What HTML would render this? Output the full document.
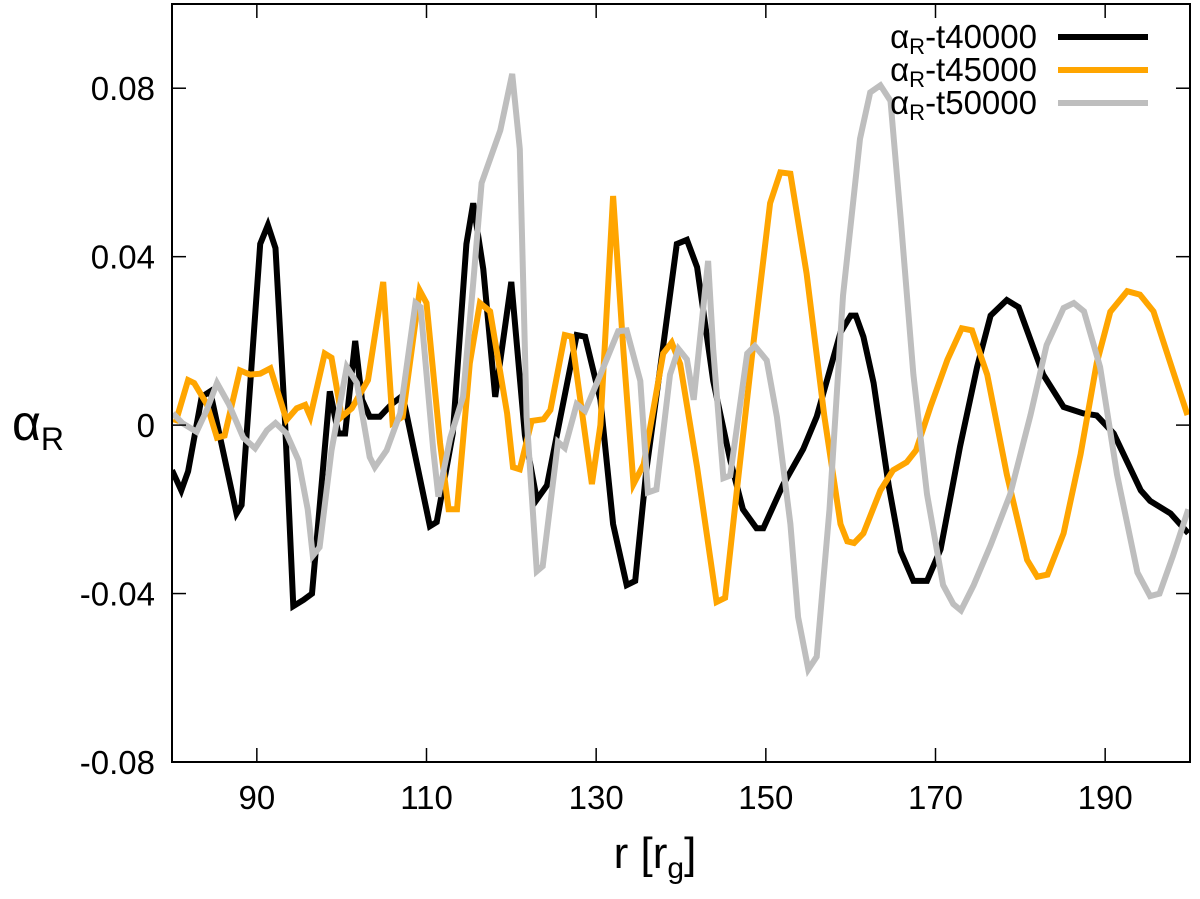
<!DOCTYPE html>
<html><head><meta charset="utf-8"><style>
body{margin:0;background:#fff;}
svg text{font-family:"Liberation Sans",sans-serif;}
</style></head><body>
<svg id="chart" width="1200" height="894" viewBox="0 0 1200 894" xmlns="http://www.w3.org/2000/svg">
<g id="grid"></g>
<g id="series"></g>
<rect x="172" y="4" width="1018" height="758" fill="none" stroke="#000" stroke-width="2"/>
<g id="axes"></g>
<text x="38" y="440" font-size="50" text-anchor="middle">α<tspan font-size="32" dy="10">R</tspan></text>
<text x="655" y="868" font-size="44" text-anchor="middle">r [r<tspan font-size="30" dy="10">g</tspan><tspan dy="-10">]</tspan></text>
<g id="legend"></g>
</svg>
<script>
const xTicks=[90,110,130,150,170,190];
const yTicks=[-0.08,-0.04,0,0.04,0.08];
const yTickLabels=["-0.08","-0.04","0","0.04","0.08"];
const seriesNames=["αR-t40000","αR-t45000","αR-t50000"];
const r40=[80,81.1,81.9,83.5,84.5,87.6,88.2,90.4,91.3,92.2,93.3,94.3,95.5,96.5,98.6,99.6,100.4,101.6,102.4,103.3,104.5,105.9,107.2,110.4,111.2,113.1,114.7,115.5,116.7,118.1,120,121.6,123,124.2,125.8,127.7,128.7,130.5,132,133.6,134.6,135.9,137.9,139.5,140.7,141.9,143.8,145.8,147.3,148.9,149.7,152,154.4,156,158.8,160,160.6,161.5,162.7,164.5,165.9,167.4,169,170.6,172.9,174.9,176.5,178.4,179.8,182.7,185.1,187.4,189,191,194.2,195.3,197.7,199.8];
const v40=[-0.0107,-0.0155,-0.011,0.0067,0.008,-0.021,-0.019,0.043,0.0475,0.042,0.002,-0.043,-0.0415,-0.04,0.008,-0.002,-0.002,0.020,0.006,0.002,0.002,0.005,0.007,-0.024,-0.023,-0.002,0.043,0.0527,0.037,0.0067,0.034,-0.0024,-0.0177,-0.0143,0.002,0.0214,0.021,0.006,-0.0235,-0.038,-0.037,-0.011,0.0188,0.043,0.044,0.0375,0.0105,-0.0083,-0.020,-0.0245,-0.0245,-0.0143,-0.0057,0.002,0.022,0.026,0.026,0.021,0.010,-0.0145,-0.030,-0.037,-0.037,-0.0295,-0.005,0.0138,0.026,0.0297,0.028,0.012,0.0043,0.0028,0.0023,-0.002,-0.0155,-0.018,-0.021,-0.0257];
const r45=[80.4,81.9,82.6,84.1,85.3,86.2,88,89.2,90.4,91.6,93.5,94.7,95.7,96.3,98,98.8,100,101.2,103.1,104.9,106,107.2,109.2,110,111.6,112.6,113.6,115.1,116.3,117.5,119.5,120.2,121,122.4,123.8,124.6,126.3,127.1,129.5,130.5,132,133.2,134.4,135.6,137.9,138.9,139.9,141.9,144.2,145.2,146.6,148.5,150.5,151.7,152.9,154.8,156.9,158.8,159.6,160.4,161.5,163.5,165,166.6,167.7,169.4,171.4,173.1,174.3,176.1,178.4,180.8,182,183.2,185.1,187.1,189,190.6,192.6,194.1,195.7,198,199.7];
const v45=[0.0005,0.0107,0.010,0.005,-0.003,-0.0025,0.013,0.012,0.0122,0.0135,0.0012,0.004,0.0048,0.002,0.017,0.016,0.002,0.004,0.0107,0.034,0.0005,0.002,0.032,0.029,-0.0043,-0.020,-0.020,0.0147,0.029,0.027,0.0028,-0.010,-0.0105,0.001,0.0014,0.0036,0.0214,0.021,-0.014,0.0,0.0544,0.018,-0.014,-0.0093,0.017,0.0196,0.0145,-0.010,-0.042,-0.041,-0.0152,0.0188,0.0527,0.060,0.0597,0.036,0.002,-0.0235,-0.0276,-0.028,-0.0257,-0.0155,-0.0107,-0.0088,-0.006,0.0043,0.0155,0.023,0.0225,0.012,-0.0117,-0.032,-0.036,-0.0355,-0.0257,-0.0069,0.0147,0.0269,0.0318,0.031,0.027,0.0128,0.0024];
const r50=[80.1,81.2,82.9,84.1,85.3,86.7,88.4,89.8,91.2,92.2,93.5,94.9,96,96.6,97.4,98.8,100.6,101.8,103.3,103.9,105.3,106.9,108.7,109.3,110.8,111.4,112.8,114.3,115.5,116.5,118.7,120.1,121,121.8,123,123.7,125.5,126.3,127.7,128.7,130.5,132.6,133.6,135.2,136.1,137.1,138.7,139.7,140.7,141.5,143.2,143.8,145,145.8,147.8,148.7,150.1,151.3,152.9,153.8,155,156,157.5,159.1,161.1,162.3,163.5,164.7,165.9,167.4,169,170.9,172.1,173,174.5,176.5,178.8,181.2,183.1,185.1,186.3,187.5,189.4,191.4,193.8,195.3,196.4,198,199.8];
const v50=[0.0028,0.0005,-0.0016,0.0036,0.010,0.005,-0.003,-0.0055,-0.0012,0.0005,-0.002,-0.0083,-0.020,-0.031,-0.029,-0.006,0.0138,0.010,-0.0076,-0.010,-0.006,0.0028,0.029,0.028,-0.006,-0.017,-0.003,0.0067,0.0337,0.0575,0.070,0.0834,0.0656,0.002,-0.0347,-0.0335,-0.004,-0.0054,0.005,0.0034,0.012,0.0223,0.0225,0.0105,-0.016,-0.0153,0.012,0.0181,0.0156,0.006,0.039,0.018,-0.0126,-0.012,0.017,0.0188,0.0154,0.002,-0.0235,-0.0456,-0.058,-0.055,-0.02,0.0307,0.068,0.079,0.0807,0.077,0.049,0.012,-0.0164,-0.038,-0.0425,-0.044,-0.038,-0.0285,-0.0164,0.0024,0.019,0.0278,0.029,0.027,0.0138,-0.0117,-0.035,-0.0406,-0.04,-0.031,-0.020];
const X0=172,X1=1190,Y0=762,Y1=4,XMIN=80,XMAX=200,YMIN=-0.08,YMAX=0.1;
function xs(r){return X0+(r-XMIN)/(XMAX-XMIN)*(X1-X0);}
function ys(v){return Y0-(v-YMIN)/(YMAX-YMIN)*(Y0-Y1);}
const NS="http://www.w3.org/2000/svg";
const axes=document.getElementById('axes');
function mk(tag,attrs,parent){const e=document.createElementNS(NS,tag);for(const k in attrs)e.setAttribute(k,attrs[k]);parent.appendChild(e);return e;}
xTicks.forEach(t=>{
  const x=xs(t);
  const a=mk('line',{x1:x,x2:x,y1:Y0,y2:Y0-14,stroke:'#000','stroke-width':1.5},axes);
  
  
  const b=mk('line',{x1:x,x2:x,y1:Y1,y2:Y1+14,stroke:'#000','stroke-width':1.5},axes);
  
  
  const l=mk('text',{x:x,y:809,'font-size':33,'text-anchor':'middle'},axes);
  l.textContent=t;
  
  
});
yTicks.forEach((t,i)=>{
  const y=ys(t);
  const a=mk('line',{x1:X0,x2:X0+14,y1:y,y2:y,stroke:'#000','stroke-width':1.5},axes);
  
  
  const b=mk('line',{x1:X1,x2:X1-14,y1:y,y2:y,stroke:'#000','stroke-width':1.5},axes);
  
  
  const l=mk('text',{x:155,y:y+12,'font-size':33,'text-anchor':'end'},axes);
  l.textContent=yTickLabels[i];
  
  
});
const ser=document.getElementById('series');
const defs=[[r40,v40,'#000','series-t40000'],[r45,v45,'#FFA500','series-t45000'],[r50,v50,'#BEBEBE','series-t50000']];
const clip=mk('clipPath',{id:'pc'},ser);mk('rect',{x:X0,y:Y1,width:X1-X0,height:Y0-Y1},clip);
defs.forEach(d=>{
  const pts=d[0].map((r,i)=>xs(r).toFixed(1)+','+ys(d[1][i]).toFixed(1)).join(' ');
  const p=mk('polyline',{points:pts,fill:'none',stroke:d[2],'stroke-width':6,'stroke-linejoin':'miter','clip-path':'url(#pc)'},ser);
  
  
});
const leg=document.getElementById('legend');
const legY=[37,70,103];
defs.forEach((d,i)=>{
  const t=mk('text',{x:1037,y:legY[i]+11,'font-size':33,'text-anchor':'end'},leg);
  t.innerHTML='α<tspan font-size="22" dy="6">R</tspan><tspan dy="-6">-t'+['40000','45000','50000'][i]+'</tspan>';
  
  
  const l=mk('line',{x1:1058,x2:1148,y1:legY[i],y2:legY[i],stroke:d[2],'stroke-width':6},leg);
  
  
});
</script>
</body></html>
